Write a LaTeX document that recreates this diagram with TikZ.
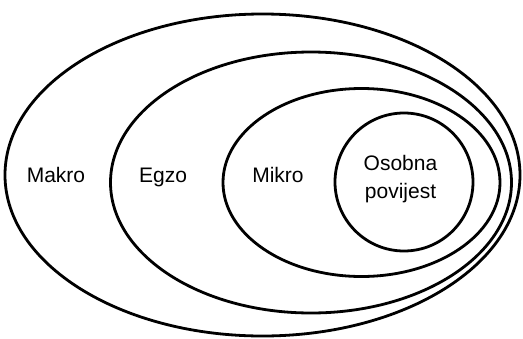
\documentclass[tikz,border=0pt]{standalone}
\usepackage{fontspec}
\setmainfont{Liberation Sans}
\begin{document}
\begin{tikzpicture}[x=1pt,y=1pt,yscale=-1,xscale=1]
\tikzset{ring/.style={draw=black,line width=2.8pt},
  label/.style={anchor=base,inner sep=0.75pt,font=\fontsize{21}{28}\selectfont,align=center}}
\useasboundingbox (0,0) rectangle (523,338);

%Shape: Ellipse [id:makro]
\draw [ring] (262.5,175) ellipse (257.5 and 161);
%Shape: Ellipse [id:egzo]
\draw [ring] (311,182.5) ellipse (200.5 and 130.5);
%Shape: Ellipse [id:mikro]
\draw [ring] (361.5,182.5) ellipse (138.5 and 94);
%Shape: Circle [id:osobna]
\draw [ring] (404,182) ellipse (69 and 69);

% Text Node
\node [label] (makro) at (56,182) {Makro};
% Text Node
\node [label] (egzo) at (163,182) {Egzo};
% Text Node
\node [label] (mikro) at (278,182) {Mikro};
% Text Node
\node [label] (osobna) at (400.5,198) {Osobna\\povijest};

\end{tikzpicture}
\end{document}
